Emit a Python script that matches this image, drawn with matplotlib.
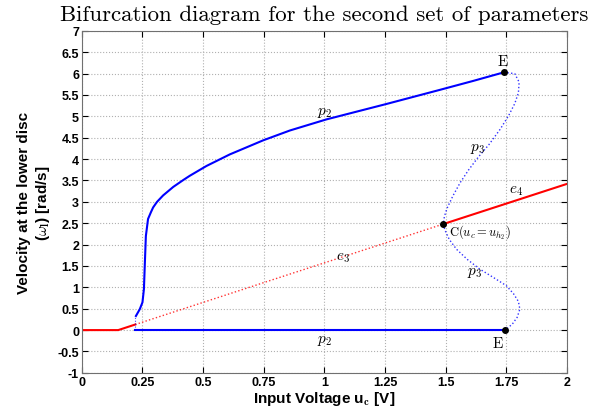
import numpy as np
import matplotlib
matplotlib.use("Agg")
from matplotlib import pyplot as plt

plt.rcParams['mathtext.fontset'] = 'cm'

# e branch (equilibrium line)
e_u = [0.0, 0.15, 0.22, 1.49, 2.0]
e_y = [0.0, 0.0, 0.13, 2.48, 3.42]

# p2 upper branch (stable)
p2u_u = [0.223, 0.239, 0.25, 0.256, 0.26, 0.264, 0.273, 0.285, 0.294, 0.31, 0.335, 0.377, 0.418,
         0.445, 0.514, 0.61, 0.748, 0.858, 1.009, 1.256, 1.476, 1.614, 1.74]
p2u_y = [0.33, 0.49, 0.65, 0.96, 1.59, 2.2, 2.6, 2.76, 2.87, 3.0, 3.15, 3.35, 3.51,
         3.61, 3.84, 4.11, 4.44, 4.67, 4.93, 5.29, 5.62, 5.83, 6.03]

# p2 lower branch
p2l_u = [0.22, 1.745]
p2l_y = [0.0, 0.0]

# p3 unstable branch
p3_u = [1.74, 1.785, 1.803, 1.8, 1.785, 1.76, 1.725, 1.68, 1.635, 1.595, 1.56, 1.53, 1.505, 1.495, 1.49,
        1.497, 1.515, 1.545, 1.59, 1.64, 1.7, 1.75, 1.78, 1.8, 1.806, 1.795, 1.775, 1.745]
p3_y = [6.03, 6.0, 5.8, 5.55, 5.3, 5.02, 4.7, 4.35, 4.05, 3.75, 3.45, 3.14, 2.84, 2.66, 2.48,
        2.34, 2.12, 1.89, 1.65, 1.43, 1.22, 1.04, 0.85, 0.67, 0.49, 0.3, 0.14, 0.0]

# special points
pt_u = [1.74, 1.745, 1.49]
pt_y = [6.03, 0.0, 2.48]

xticks = [0, 0.25, 0.5, 0.75, 1, 1.25, 1.5, 1.75, 2]
xtick_labels = ["0", "0.25", "0.5", "0.75", "1", "1.25", "1.5", "1.75", "2"]
yticks = np.arange(-1, 7.01, 0.5)
ytick_labels = ["-1", "-0.5", "0", "0.5", "1", "1.5", "2", "2.5", "3", "3.5", "4", "4.5", "5", "5.5", "6", "6.5", "7"]

fig = plt.figure(figsize=(5.93, 4.14), dpi=100)
ax = fig.add_axes([0.138, 0.097, 0.818, 0.826])

dots = (0, (1, 1.6))

# e line: solid / dotted / solid
ax.plot(e_u[:3], e_y[:3], color="red", lw=1.5)
ax.plot(e_u[2:4], e_y[2:4], color="red", lw=1.0, linestyle=dots, alpha=0.8)
ax.plot(e_u[3:], e_y[3:], color="red", lw=1.5)

ax.plot(p2u_u, p2u_y, color="blue", lw=1.5)
ax.plot(p2l_u, p2l_y, color="blue", lw=1.5)
ax.plot([0.22, 0.22], [0.0, 0.3], color="blue", lw=0.8, linestyle=dots, alpha=0.7)
ax.plot(p3_u, p3_y, color="blue", lw=1.0, linestyle=dots, alpha=0.8)
ax.plot(pt_u, pt_y, "o", color="black", ms=4)

tf = dict(fontsize=11)
ax.text(1.735, 6.12, "E", family="cmr10", fontsize=11, ha="center", va="bottom")
ax.text(1.715, -0.15, "E", family="cmr10", fontsize=11, ha="center", va="top")
ax.text(1.0, 5.12, r"$p_2$", ha="center", va="center", **tf)
ax.text(1.0, -0.22, r"$p_2$", ha="center", va="center", **tf)
ax.text(1.63, 4.28, r"$p_3$", ha="center", va="center", **tf)
ax.text(1.62, 1.38, r"$p_3$", ha="center", va="center", **tf)
ax.text(1.79, 3.3, r"$e_4$", ha="center", va="center", **tf)
ax.text(1.076, 1.72, r"$e_3$", ha="center", va="center", **tf)
ax.text(1.515, 2.3, r"$\mathrm{C}(u_c = u_{h_2})$", ha="left", va="center", fontsize=9)

ax.set_xlim(0, 2)
ax.set_ylim(-1, 7)
ax.set_xticks(xticks)
ax.set_xticklabels(xtick_labels)
ax.set_yticks(yticks)
ax.set_yticklabels(ytick_labels)
ax.tick_params(direction="in", top=True, right=True, length=4, labelsize=9, colors="black", pad=2)
for lab in ax.get_xticklabels() + ax.get_yticklabels():
    lab.set_fontweight("bold")
    lab.set_family("Liberation Sans")
for s in ax.spines.values():
    s.set_color("#707070")
ax.grid(True, linestyle=":", color="#b0b0b0", lw=0.8)

ax.set_title("Bifurcation diagram for the second set of parameters", family="cmr10", fontsize=16.5, pad=8)
ax.set_xlabel(r"Input Voltage u$_\mathbf{c}$ [V]", fontsize=11, fontweight="bold", family="Liberation Sans", labelpad=1)
ax.set_ylabel("Velocity at the lower disc\n" + r"($\mathbf{\omega}_\mathbf{l}$) [rad/s]", fontsize=11,
              fontweight="bold", family="Liberation Sans", labelpad=4)

fig.savefig("out.png", dpi=100)
